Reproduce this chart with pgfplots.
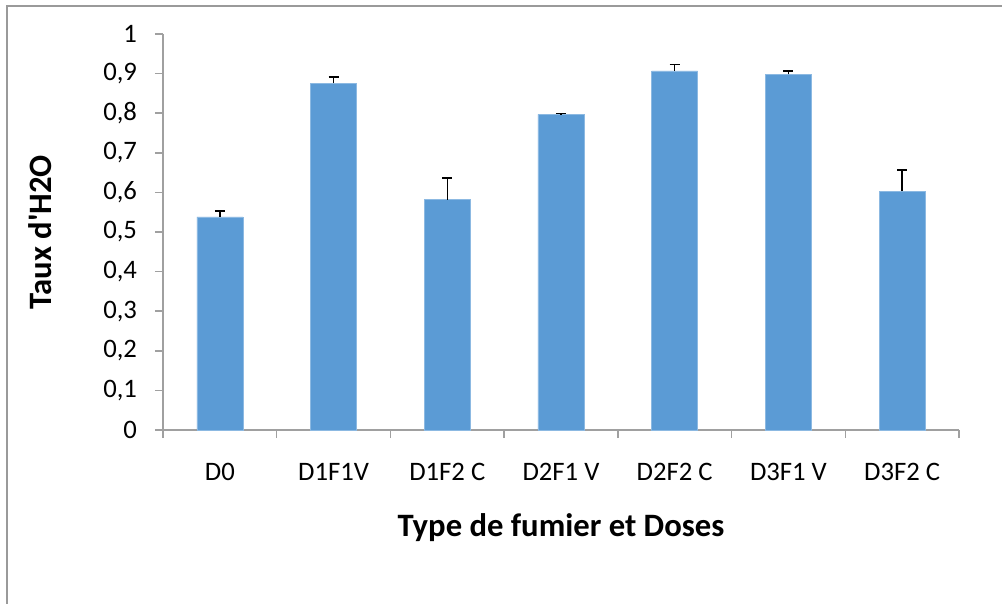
\documentclass[border=0pt]{standalone}
\usepackage{pgfplots}
\pgfplotsset{compat=1.18}
\usepackage{fontspec}
\setmainfont{Carlito}
\definecolor{barblue}{HTML}{5B9BD5}
\definecolor{axgrey}{HTML}{A0A0A0}
\definecolor{bordergrey}{HTML}{9A9A9A}
\begin{document}
\begin{tikzpicture}
\useasboundingbox (-122.25pt,-129.75pt) rectangle (629.25pt,322.5pt);
\draw[bordergrey, line width=1.5pt] (-117pt,-140pt) -- (-117pt,318pt) -- (640pt,318pt);
\begin{axis}[
  at={(0,0)}, anchor=south west,
  scale only axis,
  width=597pt, height=297pt,
  xmin=-0.5, xmax=6.5,
  ymin=0, ymax=1,
  axis x line*=bottom,
  axis y line*=left,
  axis line style={axgrey, line width=1.1pt, -},
  xtick={0,...,6},
  xticklabels={D0, D1F1V, D1F2 C, D2F1 V, D2F2 C, D3F1 V, D3F2 C},
  major x tick style={draw=none},
  minor xtick={-0.5,0.5,...,6.5},
  minor x tick style={axgrey, line width=1.1pt},
  minor tick length=6pt,
  ytick={0,0.1,...,1.01},
  major y tick style={axgrey, line width=1.1pt},
  major tick length=6pt,
  tick align=outside,
  /pgf/number format/.cd, use comma, fixed, precision=1, assume math mode=true,
  /pgfplots/.cd,
  ticklabel style={font=\fontsize{20pt}{23pt}\selectfont, text=black},
  xticklabel style={anchor=base, yshift=-32pt},
  yticklabel style={anchor=east, xshift=-10pt},
  xlabel={\textbf{Type de fumier et Doses}},
  ylabel={\textbf{Taux d\textquotesingle H2O}},
  label style={font=\fontsize{24.5pt}{28pt}\selectfont},
  xlabel style={at={(axis description cs:0.5,0)}, anchor=center, yshift=-73pt},
  ylabel style={at={(axis description cs:-0.1545,0.5)}, anchor=center, rotate=0},
  clip=false,
]
\addplot[ybar, bar width=34.5pt, fill=barblue, draw=barblue!70!white, line width=0.4pt,
  error bars/.cd, y dir=plus, y explicit,
  error bar style={black, line width=1.1pt},
  error mark options={rotate=90, mark size=3.8pt, black, line width=1.1pt}]
coordinates {
  (0,0.538) +- (0,0.015)
  (1,0.876) +- (0,0.016)
  (2,0.582) +- (0,0.054)
  (3,0.797) +- (0,0.002)
  (4,0.907) +- (0,0.016)
  (5,0.898) +- (0,0.008)
  (6,0.603) +- (0,0.054)
};
\end{axis}
\end{tikzpicture}
\end{document}
